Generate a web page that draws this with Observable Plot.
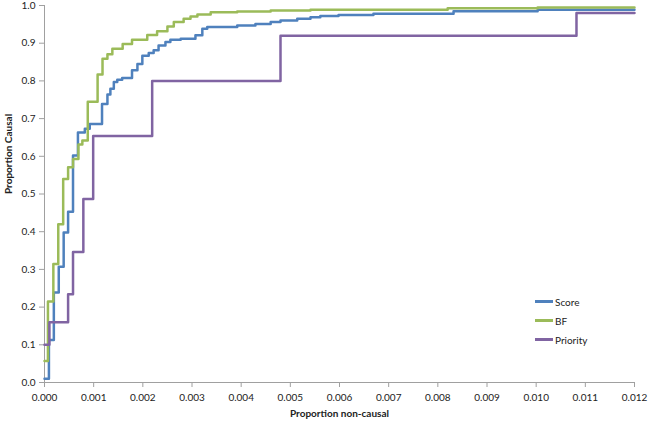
<!DOCTYPE html>
<html><head><meta charset="utf-8">
<script src="https://cdn.jsdelivr.net/npm/d3@7"></script>
<script src="https://cdn.jsdelivr.net/npm/@observablehq/plot@0.6"></script>
<style>
body{margin:0;background:#fff;}
#wrap{position:relative;width:649px;height:426px;font-family:Lato,"Open Sans",sans-serif;}
.legend{position:absolute;left:535px;top:292px;font-size:10px;color:#222;}
.legend div{display:flex;align-items:center;height:19px;}
.legend .sw{display:inline-block;width:18px;height:2.5px;margin-right:2px;}
</style>
</head><body>
<div id="wrap"></div>
<script>
const seriesNames = ["Score", "BF", "Priority"];
const seriesColors = ["#4F81BD", "#9BBB59", "#8064A2"];

const scoreX = [0, 0.00009, 0.00019, 0.00029, 0.00039, 0.00048, 0.00058, 0.00068, 0.00082, 0.00092, 0.00117, 0.00128, 0.00134, 0.00141, 0.00148, 0.00158, 0.00178, 0.00189, 0.00199, 0.00212, 0.00222, 0.00232, 0.00246, 0.00256, 0.00277, 0.00307, 0.00321, 0.00331, 0.00392, 0.00429, 0.0046, 0.0048, 0.00514, 0.00541, 0.00561, 0.00598, 0.00669, 0.00832, 0.01003, 0.012];
const scoreY = [0.01, 0.113, 0.239, 0.307, 0.398, 0.453, 0.602, 0.663, 0.673, 0.686, 0.739, 0.764, 0.779, 0.797, 0.803, 0.808, 0.828, 0.845, 0.867, 0.874, 0.881, 0.894, 0.903, 0.909, 0.912, 0.921, 0.938, 0.943, 0.947, 0.951, 0.956, 0.960, 0.965, 0.969, 0.972, 0.975, 0.978, 0.985, 0.989, 0.989];

const bfX = [0, 0.00007, 0.00018, 0.00028, 0.00038, 0.00048, 0.00058, 0.00069, 0.00077, 0.00088, 0.00108, 0.00118, 0.00128, 0.00138, 0.00159, 0.00178, 0.00209, 0.00229, 0.0025, 0.00263, 0.00283, 0.00297, 0.00311, 0.00338, 0.00392, 0.0046, 0.00541, 0.0082, 0.01003, 0.012];
const bfY = [0.057, 0.215, 0.314, 0.420, 0.540, 0.571, 0.593, 0.631, 0.642, 0.745, 0.817, 0.859, 0.871, 0.885, 0.898, 0.909, 0.922, 0.932, 0.944, 0.956, 0.965, 0.971, 0.976, 0.982, 0.984, 0.987, 0.989, 0.993, 0.995, 0.995];

const priorityX = [0, 0.0001, 0.00048, 0.00058, 0.00079, 0.00099, 0.00219, 0.0048, 0.01082, 0.012];
const priorityY = [0.1, 0.16, 0.234, 0.346, 0.487, 0.654, 0.80, 0.92, 0.98, 0.98];

const xTicks = [0, 0.001, 0.002, 0.003, 0.004, 0.005, 0.006, 0.007, 0.008, 0.009, 0.010, 0.011, 0.012];
const yTicks = [0, 0.1, 0.2, 0.3, 0.4, 0.5, 0.6, 0.7, 0.8, 0.9, 1.0];
const xTitle = "Proportion non-causal";
const yTitle = "Proportion Causal";

const seriesX = [scoreX, bfX, priorityX];
const seriesY = [scoreY, bfY, priorityY];
const rows = [];
seriesNames.forEach((name, i) => {
  seriesX[i].forEach((x, j) => rows.push({series: name, x, y: seriesY[i][j]}));
});

const axisColor = "#a0a0a0";
const chart = Plot.plot({
  width: 649,
  height: 426,
  marginLeft: 44,
  marginRight: 15,
  marginTop: 5,
  marginBottom: 44,
  x: {domain: [0, 0.012]},
  y: {domain: [0, 1]},
  color: {domain: seriesNames, range: seriesColors},
  style: {fontFamily: "Lato, 'Open Sans', sans-serif", fontSize: "10px", color: "#222", background: "#fff"},
  marks: [
    Plot.axisY({ticks: yTicks, tickFormat: d3.format(".1f"), tickSize: 5, tickPadding: 4, label: null, stroke: axisColor}),
    Plot.axisX({ticks: xTicks, tickFormat: d3.format(".3f"), tickSize: 5, tickPadding: 6, label: null, stroke: axisColor}),
    Plot.ruleX([0], {stroke: axisColor}),
    Plot.ruleY([0], {stroke: axisColor}),
    Plot.line(rows, {x: "x", y: "y", z: "series", stroke: "series", curve: "step-after", strokeWidth: 2.5}),
    Plot.text([yTitle], {frameAnchor: "left", rotate: -90, dx: -36, fontWeight: "bold", fontSize: 10}),
    Plot.text([xTitle], {frameAnchor: "bottom", dy: 34, fontWeight: "bold", fontSize: 10})
  ]
});
const wrap = document.getElementById("wrap");
wrap.appendChild(chart);
const legend = document.createElement("div");
legend.className = "legend";
seriesNames.forEach((name, i) => {
  const row = document.createElement("div");
  const sw = document.createElement("span");
  sw.className = "sw";
  sw.style.background = seriesColors[i];
  row.appendChild(sw);
  row.appendChild(document.createTextNode(name));
  legend.appendChild(row);
});
wrap.appendChild(legend);
</script>
</body></html>
